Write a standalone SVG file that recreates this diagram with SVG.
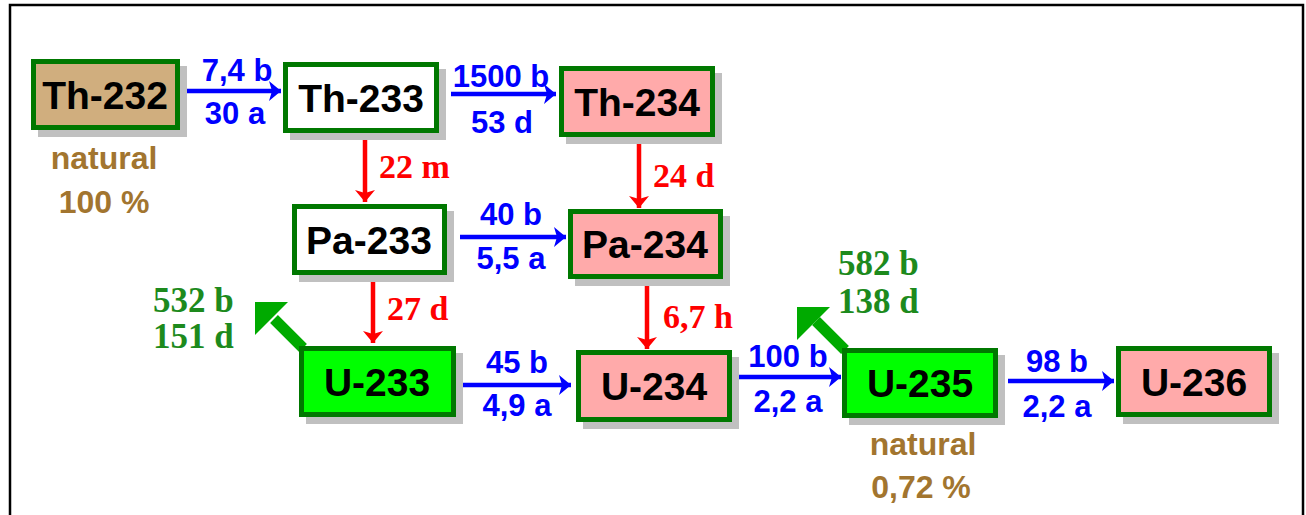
<svg xmlns="http://www.w3.org/2000/svg" width="1306" height="515" viewBox="0 0 1306 515">
  <defs>
    <style>
      .shadow { fill: #c0c0c0; }
      .box { stroke: #007800; stroke-width: 5; }
      .white { fill: #ffffff; }
      .tan { fill: #d0ae7e; }
      .pink { fill: #ffaaaa; }
      .lime { fill: #00ff00; }
      .name { font-family: "Liberation Sans", Arial, sans-serif; font-weight: bold; font-size: 39px; fill: #000; text-anchor: middle; }
      .cap { font-family: "Liberation Sans", Arial, sans-serif; font-weight: bold; font-size: 31px; fill: #0000ff; text-anchor: middle; }
      .decay { font-family: "Liberation Serif", "Times New Roman", serif; font-weight: bold; font-size: 34px; fill: #ff0000; }
      .fis { font-family: "Liberation Serif", "Times New Roman", serif; font-weight: bold; font-size: 35px; fill: #1d8a1d; }
      .nat { font-family: "Liberation Sans", Arial, sans-serif; font-weight: bold; font-size: 32px; fill: #a2752f; text-anchor: middle; }
      .blue { stroke: #0000ff; stroke-width: 4.5; fill: none; }
      .red { stroke: #ff0000; stroke-width: 4.5; fill: none; }
      .fisline { stroke: #00aa00; stroke-width: 11; fill: none; }
    </style>
    <marker id="headBlue" viewBox="-14 -12 16 24" markerUnits="userSpaceOnUse" markerWidth="16" markerHeight="24" refX="0" refY="0" orient="auto">
      <path d="M0,0 L-12,-10 L-9,0 L-12,10 Z" fill="#0000ff"/>
    </marker>
    <marker id="headRed" viewBox="-14 -12 16 24" markerUnits="userSpaceOnUse" markerWidth="16" markerHeight="24" refX="0" refY="0" orient="auto">
      <path d="M0,0 L-12,-10 L-9,0 L-12,10 Z" fill="#ff0000"/>
    </marker>
  </defs>

  <!-- outer frame -->
  <rect x="10" y="5" width="1293" height="540" fill="#ffffff" stroke="#000000" stroke-width="2.5"/>

  <!-- connectors -->
  <g id="connectors">
    <!-- neutron capture (blue) -->
    <line class="blue" x1="180" y1="91" x2="281" y2="91" marker-end="url(#headBlue)"/>
    <line class="blue" x1="451" y1="94" x2="556" y2="94" marker-end="url(#headBlue)"/>
    <line class="blue" x1="460" y1="237" x2="566" y2="237" marker-end="url(#headBlue)"/>
    <line class="blue" x1="462" y1="385" x2="571" y2="385" marker-end="url(#headBlue)"/>
    <line class="blue" x1="736" y1="377" x2="841" y2="377" marker-end="url(#headBlue)"/>
    <line class="blue" x1="1008" y1="381" x2="1114" y2="381" marker-end="url(#headBlue)"/>
    <!-- beta decay (red) -->
    <line class="red" x1="365" y1="133" x2="365" y2="202" marker-end="url(#headRed)"/>
    <line class="red" x1="639" y1="137" x2="639" y2="208" marker-end="url(#headRed)"/>
    <line class="red" x1="373" y1="275" x2="373" y2="343" marker-end="url(#headRed)"/>
    <line class="red" x1="647" y1="279" x2="647" y2="349" marker-end="url(#headRed)"/>
    <!-- fission (green) -->
    <line class="fisline" x1="303" y1="348" x2="274" y2="319"/>
    <polygon points="255,302 288,302 255,335" fill="#00aa00"/>
    <line class="fisline" x1="845" y1="350" x2="816" y2="321"/>
    <polygon points="797,307 830,307 797,340" fill="#00aa00"/>
  </g>

  <!-- connector labels -->
  <g id="labels">
    <text class="cap" x="237" y="81">7,4 b</text>
    <text class="cap" x="235" y="124">30 a</text>
    <text class="cap" x="501" y="87">1500 b</text>
    <text class="cap" x="502" y="133">53 d</text>
    <text class="cap" x="511" y="225">40 b</text>
    <text class="cap" x="511" y="269">5,5 a</text>
    <text class="cap" x="517" y="373">45 b</text>
    <text class="cap" x="517" y="416">4,9 a</text>
    <text class="cap" x="788" y="367">100 b</text>
    <text class="cap" x="788" y="412">2,2 a</text>
    <text class="cap" x="1057" y="372">98 b</text>
    <text class="cap" x="1057" y="417">2,2 a</text>

    <text class="decay" x="379" y="178">22 m</text>
    <text class="decay" x="653" y="187">24 d</text>
    <text class="decay" x="387" y="320">27 d</text>
    <text class="decay" x="663" y="328">6,7 h</text>

    <text class="fis" x="153" y="312">532 b</text>
    <text class="fis" x="153" y="348">151 d</text>
    <text class="fis" x="838" y="275">582 b</text>
    <text class="fis" x="838" y="313">138 d</text>

    <text class="nat" x="104" y="169">natural</text>
    <text class="nat" x="104" y="213">100 %</text>
    <text class="nat" x="923" y="455">natural</text>
    <text class="nat" x="921" y="498">0,72 %</text>
  </g>

  <!-- nuclide nodes -->
  <g id="th232">
    <rect class="shadow" x="38" y="66" width="149" height="71"/>
    <rect class="box tan" x="33.5" y="61.5" width="144" height="66"/>
    <text class="name" x="105" y="109">Th-232</text>
  </g>
  <g id="th233">
    <rect class="shadow" x="290" y="69" width="156" height="71"/>
    <rect class="box white" x="285.5" y="64.5" width="151" height="66"/>
    <text class="name" x="361" y="112">Th-233</text>
  </g>
  <g id="th234">
    <rect class="shadow" x="566" y="73" width="156" height="71"/>
    <rect class="box pink" x="561.5" y="68.5" width="151" height="66"/>
    <text class="name" x="637" y="116">Th-234</text>
  </g>
  <g id="pa233">
    <rect class="shadow" x="299" y="211" width="155" height="71"/>
    <rect class="box white" x="294.5" y="206.5" width="150" height="66"/>
    <text class="name" x="369" y="254">Pa-233</text>
  </g>
  <g id="pa234">
    <rect class="shadow" x="575" y="216" width="155" height="70"/>
    <rect class="box pink" x="570.5" y="211.5" width="150" height="65"/>
    <text class="name" x="645" y="258">Pa-234</text>
  </g>
  <g id="u233">
    <rect class="shadow" x="306" y="353" width="157" height="71"/>
    <rect class="box lime" x="301.5" y="348.5" width="152" height="66"/>
    <text class="name" x="377" y="396">U-233</text>
  </g>
  <g id="u234">
    <rect class="shadow" x="583" y="357" width="156" height="72"/>
    <rect class="box pink" x="578.5" y="352.5" width="151" height="67"/>
    <text class="name" x="654" y="400">U-234</text>
  </g>
  <g id="u235">
    <rect class="shadow" x="849" y="355" width="156" height="70"/>
    <rect class="box lime" x="844.5" y="350.5" width="151" height="65"/>
    <text class="name" x="920" y="397">U-235</text>
  </g>
  <g id="u236">
    <rect class="shadow" x="1123" y="353" width="156" height="71"/>
    <rect class="box pink" x="1118.5" y="348.5" width="151" height="66"/>
    <text class="name" x="1194" y="396">U-236</text>
  </g>
</svg>
